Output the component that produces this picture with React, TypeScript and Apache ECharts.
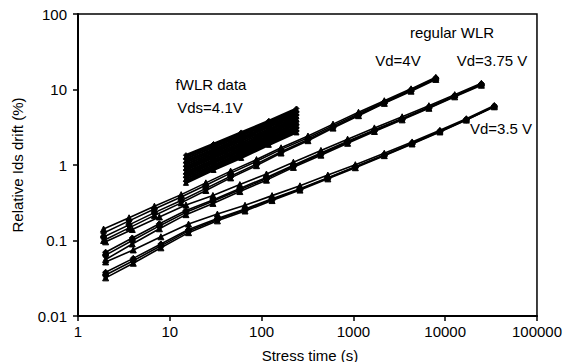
import React, { useEffect, useRef } from "react";
import * as echarts from "echarts";

// Stress times (s) per group
const T_VD4 = [1.9, 3.6, 6.8, 13.3, 24.7, 46, 88, 163, 320, 600, 1137, 2173, 4250, 7910];
const T_VD375 = [2, 3.9, 7.7, 15, 29.5, 58, 113, 222, 443, 865, 1694, 3398, 6650, 12700, 24800];
const T_VD35 = [2, 4, 8, 16, 33, 66, 130, 262, 527, 1050, 2170, 4360, 8760, 17000, 34300];
const T_FWLR = [15, 30, 60, 120, 240];

// Regular WLR, Vd = 4 V
const VD4_A = [0.142, 0.2, 0.285, 0.405, 0.58, 0.83, 1.18, 1.69, 2.42, 3.48, 5.0, 7.1, 10.2, 14.5];
const VD4_B = [0.126, 0.182, 0.262, 0.376, 0.54, 0.78, 1.12, 1.61, 2.3, 3.32, 4.78, 6.88, 9.9, 14.2];
const VD4_C = [0.111, 0.161, 0.234, 0.338, 0.49, 0.71, 1.03, 1.5, 2.18, 3.17, 4.6, 6.68, 9.7, 13.9];
const VD4_D = [0.1, 0.147, 0.215, 0.315, 0.46, 0.675, 0.98, 1.44, 2.1, 3.08, 4.5, 6.55, 9.5, 13.6];

// Regular WLR, Vd = 3.75 V
const VD375_A = [0.096, 0.14, 0.205, 0.295, 0.395, 0.55, 0.76, 1.09, 1.56, 2.2, 3.1, 4.35, 6.1, 8.55, 12.1];
const VD375_B = [0.07, 0.108, 0.167, 0.25, 0.345, 0.49, 0.685, 0.995, 1.44, 2.06, 2.92, 4.14, 5.86, 8.28, 11.8];
const VD375_C = [0.064, 0.1, 0.156, 0.236, 0.33, 0.47, 0.66, 0.965, 1.4, 2.0, 2.85, 4.05, 5.75, 8.15, 11.6];
const VD375_D = [0.056, 0.09, 0.143, 0.22, 0.31, 0.445, 0.63, 0.93, 1.35, 1.94, 2.78, 3.96, 5.64, 8.0, 11.4];

// Regular WLR, Vd = 3.5 V
const VD35_A = [0.052, 0.075, 0.112, 0.165, 0.224, 0.293, 0.393, 0.53, 0.735, 1.01, 1.43, 2.02, 2.88, 4.1, 6.15];
const VD35_B = [0.038, 0.058, 0.09, 0.14, 0.196, 0.262, 0.356, 0.485, 0.68, 0.95, 1.36, 1.94, 2.79, 4.0, 6.0];
const VD35_C = [0.035, 0.054, 0.085, 0.134, 0.19, 0.255, 0.348, 0.476, 0.67, 0.94, 1.35, 1.93, 2.77, 3.97, 5.95];
const VD35_D = [0.032, 0.05, 0.08, 0.127, 0.182, 0.246, 0.338, 0.465, 0.655, 0.92, 1.33, 1.9, 2.74, 3.93, 5.9];

// fWLR data, Vds = 4.1 V
const FWLR_1 = [0.58, 0.86, 1.24, 1.85, 2.7];
const FWLR_2 = [0.61, 0.9, 1.31, 1.93, 2.84];
const FWLR_3 = [0.65, 0.95, 1.38, 2.02, 2.98];
const FWLR_4 = [0.69, 1.0, 1.45, 2.12, 3.13];
const FWLR_5 = [0.73, 1.06, 1.53, 2.22, 3.28];
const FWLR_6 = [0.77, 1.11, 1.6, 2.34, 3.45];
const FWLR_7 = [0.81, 1.17, 1.69, 2.45, 3.62];
const FWLR_8 = [0.86, 1.24, 1.78, 2.58, 3.8];
const FWLR_9 = [0.91, 1.3, 1.87, 2.71, 3.99];
const FWLR_10 = [0.96, 1.37, 1.97, 2.85, 4.19];
const FWLR_11 = [1.02, 1.45, 2.08, 3.0, 4.4];
const FWLR_12 = [1.08, 1.53, 2.19, 3.16, 4.62];
const FWLR_13 = [1.14, 1.61, 2.3, 3.32, 4.85];
const FWLR_14 = [1.21, 1.71, 2.43, 3.49, 5.09];
const FWLR_15 = [1.28, 1.8, 2.56, 3.66, 5.34];
const FWLR_16 = [1.35, 1.9, 2.7, 3.85, 5.6];

const X_TICK_LABELS = ["1", "10", "100", "1000", "10000", "100000"];
const Y_TICK_LABELS = ["0.01", "0.1", "1", "10", "100"];

const FONT = "'Liberation Sans', Arial, sans-serif";

export default function App() {
  const ref = useRef<HTMLDivElement>(null);

  useEffect(() => {
    if (!ref.current) return;
    const chart = echarts.init(ref.current, undefined, { renderer: "svg" });

    const regular: [number[], number[][]][] = [
      [T_VD4, [VD4_A, VD4_B, VD4_C, VD4_D]],
      [T_VD375, [VD375_A, VD375_B, VD375_C, VD375_D]],
      [T_VD35, [VD35_A, VD35_B, VD35_C, VD35_D]],
    ];
    const fwlr = [
      FWLR_1, FWLR_2, FWLR_3, FWLR_4, FWLR_5, FWLR_6, FWLR_7, FWLR_8,
      FWLR_9, FWLR_10, FWLR_11, FWLR_12, FWLR_13, FWLR_14, FWLR_15, FWLR_16,
    ];
    const symbols = ["triangle", "diamond", "circle", "triangle"];

    const series: any[] = [];
    fwlr.forEach((vals, i) => {
      series.push({
        type: "line",
        data: T_FWLR.map((t, k) => [t, vals[k]]),
        symbol: i % 2 === 0 ? "triangle" : "diamond",
        symbolSize: 5,
        lineStyle: { color: "#000", width: 2.4 },
        itemStyle: { color: "#000", borderColor: "#000" },
        silent: true,
      });
    });
    regular.forEach(([t, lines]) => {
      lines.forEach((vals, i) => {
        series.push({
          type: "line",
          data: t.map((x, k) => [x, vals[k]]),
          symbol: symbols[i % symbols.length],
          symbolSize: 6,
          lineStyle: { color: "#000", width: 1.6 },
          itemStyle: { color: "#000", borderColor: "#000", borderWidth: 1 },
          silent: true,
        });
      });
    });

    const textStyle = { fontFamily: FONT, fontSize: 15, fill: "#000" };

    chart.setOption({
      animation: false,
      backgroundColor: "#fff",
      grid: {
        left: 78,
        right: 24,
        top: 14,
        bottom: 46,
        show: true,
        borderColor: "#000",
        borderWidth: 1.5,
      },
      xAxis: {
        type: "log",
        logBase: 10,
        min: 1,
        max: 100000,
        axisLine: { lineStyle: { color: "#000", width: 2 } },
        axisTick: { show: true, inside: false, length: 5, lineStyle: { color: "#000", width: 1.5 } },
        splitLine: { show: false },
        axisLabel: {
          margin: 8,
          color: "#000",
          fontFamily: FONT,
          fontSize: 15,
          formatter: (v: number) => X_TICK_LABELS[Math.round(Math.log10(v))] ?? "",
        },
      },
      yAxis: {
        type: "log",
        logBase: 10,
        min: 0.01,
        max: 100,
        axisLine: { lineStyle: { color: "#000", width: 2 } },
        axisTick: { show: true, inside: false, length: 5, lineStyle: { color: "#000", width: 1.5 } },
        splitLine: { show: false },
        axisLabel: {
          margin: 11,
          color: "#000",
          fontFamily: FONT,
          fontSize: 15,
          formatter: (v: number) => Y_TICK_LABELS[Math.round(Math.log10(v)) + 2] ?? "",
        },
      },
      graphic: [
        { type: "text", x: 211, y: 84, style: { ...textStyle, text: "fWLR data", align: "center", verticalAlign: "middle" } },
        { type: "text", x: 210, y: 107, style: { ...textStyle, text: "Vds=4.1V", align: "center", verticalAlign: "middle" } },
        { type: "text", x: 452, y: 32, style: { ...textStyle, text: "regular WLR", align: "center", verticalAlign: "middle" } },
        { type: "text", x: 398, y: 60, style: { ...textStyle, text: "Vd=4V", align: "center", verticalAlign: "middle" } },
        { type: "text", x: 492, y: 60, style: { ...textStyle, text: "Vd=3.75 V", align: "center", verticalAlign: "middle" } },
        { type: "text", x: 501, y: 128, style: { ...textStyle, text: "Vd=3.5 V", align: "center", verticalAlign: "middle" } },
        { type: "text", x: 310, y: 355, style: { ...textStyle, text: "Stress time (s)", align: "center", verticalAlign: "middle" } },
        {
          type: "text",
          x: 17,
          y: 165,
          rotation: Math.PI / 2,
          style: { ...textStyle, text: "Relative Ids drift (%)", align: "center", verticalAlign: "middle" },
        },
      ],
      series,
    });

    return () => chart.dispose();
  }, []);

  return <div ref={ref} style={{ width: 565, height: 362, position: "absolute", left: 0, top: 0 }} />;
}
